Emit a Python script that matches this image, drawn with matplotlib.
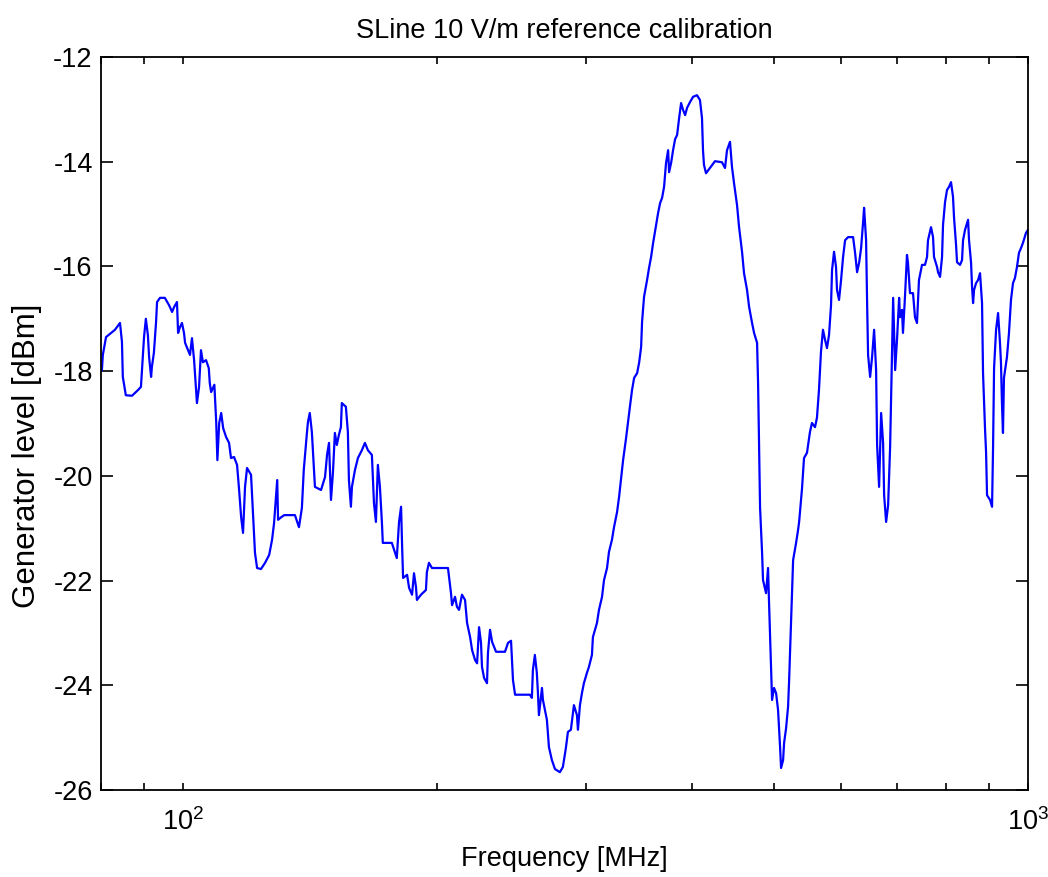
import matplotlib
matplotlib.use("Agg")
import matplotlib.pyplot as plt
from matplotlib.ticker import LogLocator, NullFormatter, MultipleLocator

plt.rcParams['font.family'] = ['Liberation Sans', 'DejaVu Sans']
plt.rcParams['mathtext.default'] = 'regular'
plt.rcParams['axes.unicode_minus'] = False

# frequency [MHz]
freq = [
    80.2, 80.4, 81.1, 83.1, 84.25, 84.7, 84.9, 85.6, 87.05, 88.5, 89.2, 89.45, 89.95, 90.4, 90.9,
    91.2, 91.7, 91.9, 92.4, 92.95, 93.2, 93.95, 95.2, 96.3, 97.1, 97.6, 98.4, 98.7, 99.2, 99.75,
    100.3, 100.6, 101.4, 101.95, 102.5, 103.1, 103.6, 103.9, 104.5, 105.05, 105.6, 106.5, 107.3, 107.6, 108.0,
    108.95, 109.5, 109.85, 110.4, 111.0, 111.6, 112.5, 113.4, 114.0, 114.95, 115.9, 116.5, 117.2, 117.8, 118.45,
    119.1, 120.4, 121.05, 121.7, 122.4, 123.7, 125.1, 126.5, 127.5, 128.2, 128.9, 129.3, 129.6, 130.7, 131.8,
    135.7, 137.2, 138.3, 139.0, 140.2, 140.6, 141.3, 142.1, 142.9, 143.3, 145.7, 147.3, 148.1, 148.9, 149.7,
    150.5, 151.3, 152.1, 152.95, 153.8, 154.2, 155.9, 156.75, 157.2, 158.05, 158.5, 159.8, 161.1, 162.85, 164.2,
    165.55, 167.35, 168.3, 169.2, 170.1, 171.05, 172.0, 172.4, 176.7, 178.1, 179.1, 180.2, 181.2, 181.7, 182.2,
    184.2, 185.2, 186.7, 187.7, 188.7, 189.2, 191.3, 193.9, 194.4, 195.5, 197.1, 205.9, 207.6, 208.2, 209.9,
    211.0, 212.2, 213.9, 215.7, 216.9, 218.7, 219.9, 221.7, 222.9, 224.1, 225.3, 225.9, 227.2, 229.0, 229.6,
    230.9, 232.2, 234.7, 240.5, 242.5, 244.5, 245.8, 247.2, 257.4, 258.8, 259.5, 260.9, 262.3, 263.1, 263.8,
    266.0, 266.7, 269.6, 271.1, 273.3, 275.6, 279.3, 281.6, 283.9, 285.5, 287.8, 289.4, 290.2, 292.6, 293.4,
    295.0, 296.6, 298.2, 300.7, 302.3, 304.8, 305.6, 309.0, 310.7, 313.3, 315.0, 317.6, 319.3, 321.9, 323.7,
    326.4, 328.2, 330.0, 331.8, 334.5, 336.3, 338.2, 340.0, 341.9, 344.7, 346.6, 348.5, 349.4, 351.3, 354.2,
    356.1, 358.1, 360.1, 363.0, 365.0, 367.0, 369.0, 371.0, 373.0, 375.1, 376.1, 378.2, 380.2, 382.3, 384.4,
    386.5, 388.6, 390.7, 392.9, 395.0, 398.2, 401.5, 405.8, 409.1, 411.4, 412.5, 413.6, 415.9, 420.4, 426.2,
    434.4, 438.0, 440.4, 444.0, 446.4, 448.9, 452.6, 455.1, 458.8, 461.3, 465.1, 467.7, 471.5, 474.1, 478.0,
    479.3, 480.6, 481.9, 484.5, 485.8, 489.8, 492.5, 493.8, 496.5, 497.9, 500.6, 503.4, 506.1, 508.9, 510.3,
    513.1, 514.5, 517.3, 520.1, 521.5, 524.4, 527.3, 531.6, 534.5, 536.0, 540.2, 543.2, 547.6, 552.1, 555.1,
    559.7, 562.7, 565.8, 568.9, 572.0, 575.2, 578.3, 581.5, 584.7, 586.3, 589.5, 592.7, 594.3, 597.6, 600.9,
    604.2, 607.5, 612.5, 620.9, 624.3, 627.7, 631.2, 634.6, 638.1, 639.8, 643.3, 645.1, 646.8, 650.4, 653.9,
    657.5, 661.1, 662.9, 666.5, 670.2, 673.8, 675.7, 679.4, 683.1, 686.8, 690.6, 692.5, 696.3, 700.1, 703.9,
    705.5, 709.4, 711.3, 715.2, 719.1, 721.1, 725.0, 731.0, 735.0, 739.0, 743.0, 749.2, 755.3, 759.5, 761.5,
    767.8, 772.0, 774.1, 780.5, 782.6, 786.9, 791.2, 793.3, 797.7, 802.0, 806.4, 810.8, 815.2, 817.5, 822.0,
    824.2, 831.0, 835.5, 837.8, 842.4, 847.0, 849.3, 851.6, 856.3, 858.6, 861.0, 863.3, 868.0, 872.8, 877.5,
    882.3, 884.7, 889.6, 892.0, 894.4, 901.8, 906.7, 909.2, 911.7, 916.7, 921.7, 926.5, 929.0, 931.5, 934.1,
    936.6, 944.3, 949.5, 954.7, 959.9, 965.1, 970.4, 975.7, 981.1, 986.4, 994.5, 1000.0,
]

# generator level [dBm]
level = [
    -17.98, -17.69, -17.35, -17.21, -17.08, -17.44, -18.11, -18.46, -18.47, -18.36, -18.30, -17.98, -17.35, -17.00, -17.31,
    -17.73, -18.11, -17.92, -17.65, -17.06, -16.68, -16.60, -16.60, -16.74, -16.87, -16.78, -16.68, -17.27, -17.16, -17.08,
    -17.27, -17.46, -17.60, -17.69, -17.37, -17.79, -18.30, -18.61, -18.30, -17.60, -17.83, -17.79, -17.94, -18.23, -18.40,
    -18.26, -18.97, -19.70, -18.99, -18.80, -19.09, -19.26, -19.37, -19.66, -19.64, -19.79, -20.23, -20.79, -21.09, -20.21,
    -19.85, -19.98, -20.71, -21.47, -21.76, -21.78, -21.66, -21.51, -21.22, -20.90, -20.37, -20.08, -20.84, -20.79, -20.75,
    -20.75, -20.98, -20.61, -19.89, -19.18, -18.97, -18.80, -19.16, -19.85, -20.21, -20.27, -20.02, -19.60, -19.37, -20.46,
    -19.94, -19.18, -19.41, -19.22, -19.07, -18.61, -18.68, -19.16, -20.08, -20.59, -20.21, -19.89, -19.66, -19.51, -19.37,
    -19.51, -19.60, -20.52, -20.88, -19.79, -20.21, -20.90, -21.28, -21.28, -21.45, -21.57, -20.88, -20.59, -21.32, -21.95,
    -21.89, -22.14, -22.27, -21.86, -22.12, -22.37, -22.27, -22.18, -21.84, -21.66, -21.76, -21.76, -22.24, -22.47, -22.31,
    -22.50, -22.56, -22.27, -22.37, -22.81, -23.08, -23.33, -23.52, -23.58, -22.89, -23.19, -23.65, -23.86, -23.96, -23.38,
    -22.94, -23.17, -23.36, -23.36, -23.19, -23.15, -23.90, -24.18, -24.18, -24.24, -23.71, -23.42, -23.76, -24.15, -24.57,
    -24.05, -24.28, -24.66, -25.18, -25.43, -25.60, -25.66, -25.56, -25.20, -24.89, -24.85, -24.53, -24.38, -24.57, -24.85,
    -24.38, -24.15, -23.96, -23.76, -23.65, -23.42, -23.08, -22.81, -22.56, -22.31, -21.99, -21.76, -21.45, -21.22, -20.98,
    -20.69, -20.40, -20.04, -19.70, -19.28, -18.97, -18.65, -18.36, -18.13, -18.04, -17.84, -17.54, -17.06, -16.58, -16.26,
    -16.03, -15.82, -15.55, -15.21, -14.98, -14.79, -14.69, -14.48, -14.02, -13.78, -14.20, -14.02, -13.78, -13.57, -13.49,
    -13.17, -12.88, -13.01, -13.11, -12.97, -12.86, -12.76, -12.73, -12.82, -13.17, -13.78, -14.06, -14.22, -14.12, -13.99,
    -14.01, -14.12, -13.78, -13.62, -14.10, -14.41, -14.83, -15.25, -15.72, -16.13, -16.45, -16.77, -17.08, -17.27, -17.46,
    -18.23, -19.47, -20.61, -21.45, -21.99, -22.24, -21.76, -22.41, -23.65, -24.28, -24.05, -24.15, -24.47, -25.18, -25.58,
    -25.43, -25.10, -24.82, -24.41, -23.94, -22.75, -21.61, -21.28, -21.03, -20.88, -20.25, -19.66, -19.56, -19.16, -18.99,
    -19.07, -18.89, -18.36, -17.63, -17.21, -17.40, -17.56, -17.31, -16.74, -16.07, -15.72, -16.01, -16.45, -16.64, -16.26,
    -15.82, -15.50, -15.44, -15.44, -15.74, -16.11, -15.93, -15.65, -15.15, -14.88, -15.50, -16.70, -17.69, -18.11, -17.73,
    -17.21, -17.98, -19.41, -20.21, -18.80, -19.37, -20.37, -20.88, -20.56, -19.45, -17.60, -16.60, -17.98, -17.35, -16.60,
    -16.97, -16.83, -17.27, -16.58, -15.78, -15.93, -16.51, -16.51, -16.97, -17.08, -16.26, -15.97, -15.97, -15.82, -15.50,
    -15.25, -15.44, -15.82, -16.01, -16.11, -16.20, -15.82, -15.21, -14.77, -14.54, -14.48, -14.39, -14.67, -15.07, -15.59,
    -15.92, -15.97, -15.88, -15.50, -15.30, -15.17, -15.11, -15.50, -15.93, -16.39, -16.70, -16.45, -16.32, -16.26, -16.13,
    -16.70, -18.04, -19.12, -19.54, -20.37, -20.46, -20.59, -19.45, -17.94, -17.21, -16.89, -17.46, -17.84, -18.61, -19.18,
    -18.13, -17.73, -17.27, -16.64, -16.32, -16.22, -16.01, -15.74, -15.65, -15.55, -15.36, -15.30,
]

fig = plt.figure(figsize=(10.48, 8.77), dpi=100)
ax = fig.add_axes([101 / 1048, 1 - 790 / 877, 927 / 1048, 733 / 877])

ax.plot(freq, level, color='#0000ff', linewidth=1.6)

ax.set_xscale('log')
ax.set_xlim(80, 1000)
ax.set_ylim(-26, -12)
ax.yaxis.set_major_locator(MultipleLocator(2))
ax.xaxis.set_major_locator(LogLocator(base=10))
ax.xaxis.set_minor_locator(LogLocator(base=10, subs=range(2, 10)))
ax.xaxis.set_minor_formatter(NullFormatter())

ax.tick_params(axis='both', which='both', direction='in', top=True, right=True,
               width=1.2, labelsize=19.5, colors='black')
ax.tick_params(axis='x', which='both', length=5, pad=13)
ax.tick_params(axis='y', which='both', length=8.5, pad=6)
for s in ax.spines.values():
    s.set_linewidth(1.3)

ax.set_title('SLine 10 V/m reference calibration', fontsize=19.5, pad=14)
ax.set_xlabel('Frequency [MHz]', fontsize=19.5, labelpad=7.5)
ax.set_ylabel('Generator level [dBm]', fontsize=22.5)
ax.yaxis.set_label_coords(-0.064, 0.456)

fig.savefig('out.png', dpi=100)
